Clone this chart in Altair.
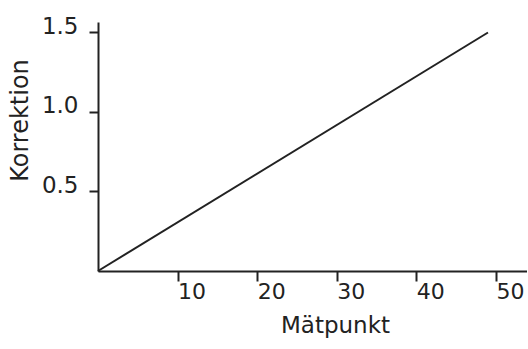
import altair as alt
import pandas as pd

matpunkt = [0, 49]
korrektion = [0.0, 1.5]

df = pd.DataFrame({"Mätpunkt": matpunkt, "Korrektion": korrektion})

ink = "#222222"
font = "DejaVu Sans"

chart = alt.Chart(df).mark_line(color=ink, strokeWidth=2).encode(
    x=alt.X("Mätpunkt:Q",
            scale=alt.Scale(domain=[0, 53.9], nice=False, zero=True),
            axis=alt.Axis(values=[10, 20, 30, 40, 50], title="Mätpunkt",
                          grid=False, domainColor=ink, domainWidth=2,
                          tickColor=ink, tickWidth=2, tickSize=10,
                          labelFont=font, labelFontSize=22, labelColor=ink,
                          labelPadding=0, labelOffset=14, labelFlush=False,
                          titleFont=font, titleFontSize=23, titleFontWeight="normal",
                          titleColor=ink, titleX=237, titleY=61,
                          titleAlign="center", titleBaseline="alphabetic")),
    y=alt.Y("Korrektion:Q",
            scale=alt.Scale(domain=[0, 1.566], nice=False, zero=True),
            axis=alt.Axis(values=[0.5, 1.0, 1.5], format=".1f", title="Korrektion",
                          grid=False, domainColor=ink, domainWidth=2,
                          tickColor=ink, tickWidth=2, tickSize=9,
                          labelFont=font, labelFontSize=23, labelColor=ink,
                          labelPadding=11, labelOffset=-6, labelFlush=False,
                          titleFont=font, titleFontSize=24, titleFontWeight="normal",
                          titleColor=ink, titleX=-71, titleY=98, titleAngle=-90,
                          titleAlign="center", titleBaseline="alphabetic")),
).properties(
    width=429, height=249,
    autosize=alt.AutoSizeParams(type="none"),
    padding={"left": 98, "top": 22, "right": 0, "bottom": 78},
    background="white",
).configure_view(stroke=None)

chart.save("out.html", embed_options={"renderer": "svg", "actions": False})
